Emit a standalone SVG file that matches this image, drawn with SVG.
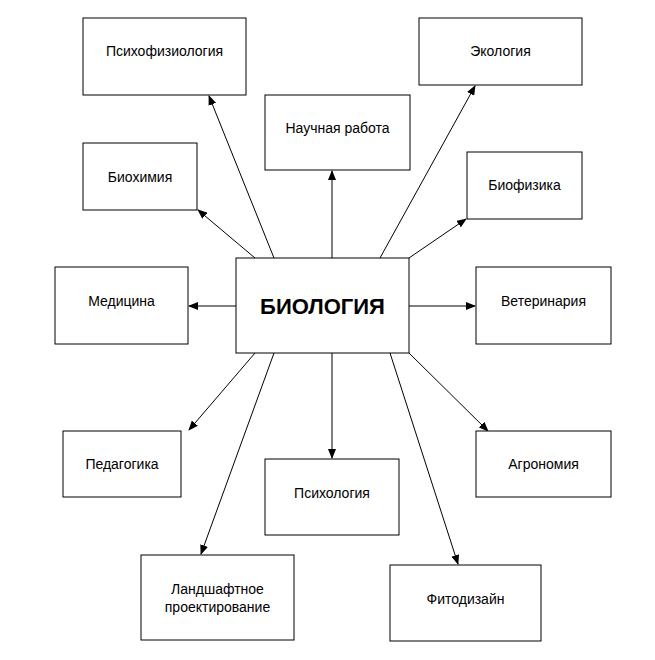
<svg xmlns="http://www.w3.org/2000/svg" width="655" height="660" viewBox="0 0 655 660">
<style>
rect{fill:#fff;stroke:#000;stroke-width:1}
text{font-family:"Liberation Sans",Arial,sans-serif;font-size:14px;text-anchor:middle;fill:#000}
.t{font-size:22px;font-weight:bold}
line{stroke:#000;stroke-width:1;marker-end:url(#a)}
</style>
<defs><marker id="a" markerWidth="10" markerHeight="8" refX="9" refY="4" orient="auto" markerUnits="userSpaceOnUse"><path d="M0,0 L10,4 L0,8 z" fill="#000"/></marker></defs>
<rect x="0" y="0" width="655" height="660" style="stroke:none"/>
<g id="connectors">
<line x1="274" y1="258" x2="209" y2="96"/>
<line x1="332" y1="258" x2="332" y2="171"/>
<line x1="380" y1="258" x2="475" y2="86"/>
<line x1="255" y1="258" x2="198" y2="210"/>
<line x1="409" y1="258" x2="466" y2="219"/>
<line x1="236" y1="306" x2="189" y2="306"/>
<line x1="409" y1="306" x2="475" y2="306"/>
<line x1="255" y1="353" x2="189" y2="430"/>
<line x1="409" y1="353" x2="488" y2="431"/>
<line x1="332" y1="353" x2="332" y2="458"/>
<line x1="274" y1="353" x2="201" y2="554"/>
<line x1="390" y1="353" x2="458" y2="564"/>
</g>
<g id="n1"><rect x="83" y="18" width="163" height="77"/><text x="164.5" y="56">Психофизиология</text></g>
<g id="n2"><rect x="419" y="18" width="163" height="67"/><text x="500.5" y="56">Экология</text></g>
<g id="n3"><rect x="265" y="95" width="145" height="75"/><text x="337.5" y="133">Научная работа</text></g>
<g id="n4"><rect x="83" y="143" width="114" height="67"/><text x="140" y="182">Биохимия</text></g>
<g id="n5"><rect x="467" y="152" width="115" height="67"/><text x="524.5" y="190">Биофизика</text></g>
<g id="n0"><rect x="236" y="258" width="173" height="95"/><text class="t" x="322.5" y="314">БИОЛОГИЯ</text></g>
<g id="n6"><rect x="55" y="267" width="133" height="77"/><text x="121.5" y="306">Медицина</text></g>
<g id="n7"><rect x="476" y="267" width="135" height="77"/><text x="543.5" y="306">Ветеринария</text></g>
<g id="n8"><rect x="63" y="431" width="118" height="66"/><text x="122" y="469">Педагогика</text></g>
<g id="n9"><rect x="476" y="431" width="135" height="66"/><text x="543.5" y="469">Агрономия</text></g>
<g id="n10"><rect x="265" y="459" width="134" height="76"/><text x="332" y="498">Психология</text></g>
<g id="n11"><rect x="141" y="555" width="153" height="85"/><text x="217.5" y="594">Ландшафтное</text><text x="217.5" y="612">проектирование</text></g>
<g id="n12"><rect x="390" y="565" width="151" height="76"/><text x="465.5" y="604">Фитодизайн</text></g>
</svg>
